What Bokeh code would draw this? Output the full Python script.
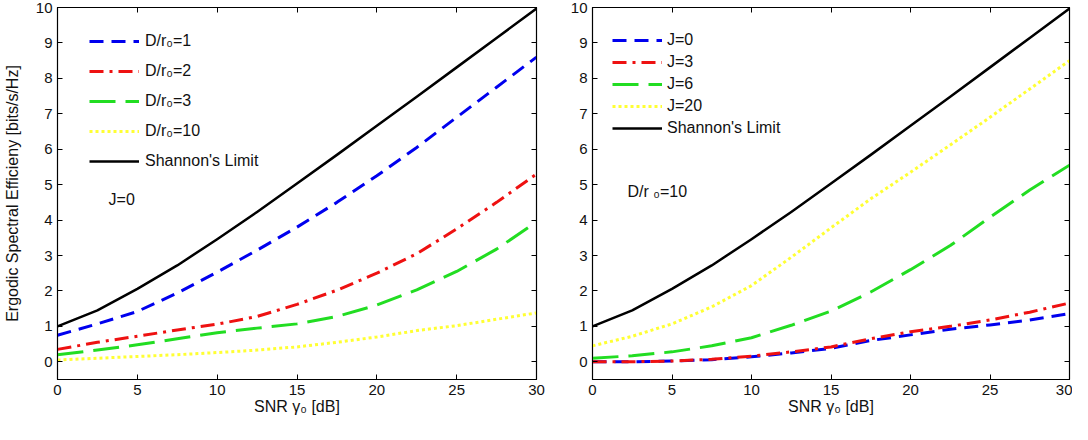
from bokeh.plotting import figure
from bokeh.models import Range1d, FixedTicker, LinearAxis, Label, Legend, LegendItem
from bokeh.layouts import row
from bokeh.embed import file_html
from bokeh.resources import INLINE

# ---------------- data ----------------
snr_db = [0, 2.5, 5, 7.5, 10, 12.5, 15, 17.5, 20, 22.5, 25, 27.5, 30]

shannon = [1.00, 1.45, 2.06, 2.72, 3.46, 4.23, 5.03, 5.84, 6.66, 7.48, 8.31, 9.14, 9.97]

# left panel (J=0)
d_r1 = [0.75, 1.07, 1.42, 1.94, 2.53, 3.15, 3.80, 4.50, 5.25, 6.05, 6.90, 7.75, 8.60]
d_r2 = [0.35, 0.55, 0.72, 0.90, 1.06, 1.28, 1.62, 2.02, 2.50, 3.05, 3.75, 4.50, 5.30]
d_r3 = [0.20, 0.33, 0.48, 0.65, 0.82, 0.95, 1.07, 1.28, 1.60, 2.03, 2.55, 3.18, 3.95]
d_r10 = [0.05, 0.10, 0.15, 0.20, 0.26, 0.33, 0.42, 0.55, 0.70, 0.88, 1.02, 1.20, 1.38]

# right panel (D/r0=10)
j0 = [0.00, 0.00, 0.02, 0.06, 0.14, 0.25, 0.38, 0.60, 0.76, 0.92, 1.04, 1.18, 1.36]
j3 = [0.00, 0.00, 0.02, 0.07, 0.16, 0.28, 0.42, 0.65, 0.85, 1.00, 1.18, 1.40, 1.66]
j6 = [0.10, 0.17, 0.28, 0.45, 0.68, 1.03, 1.43, 1.97, 2.60, 3.28, 4.08, 4.85, 5.55]
j20 = [0.45, 0.72, 1.07, 1.55, 2.15, 2.95, 3.78, 4.60, 5.35, 6.12, 6.90, 7.70, 8.50]

left_labels = ["D/r\u2080=1", "D/r\u2080=2", "D/r\u2080=3", "D/r\u2080=10", "Shannon's Limit"]
right_labels = ["J=0", "J=3", "J=6", "J=20", "Shannon's Limit"]

x_ticks = [0, 5, 10, 15, 20, 25, 30]
y_ticks = [0, 1, 2, 3, 4, 5, 6, 7, 8, 9, 10]

FONT = "Liberation Sans"
styles = [
    dict(color="#0000ee", dash="14 8", width=3),
    dict(color="#ee1111", dash="14 6 3 6", width=3),
    dict(color="#22dd22", dash="26 10", width=3),
    dict(color="#ffff33", dash="3 3", width=3),
    dict(color="#000000", dash="solid", width=2.5),
]

FIG_H = 418


def make_fig(width, border_left, border_right, ylabel):
    p = figure(width=width, height=FIG_H, output_backend="svg", toolbar_location=None,
               x_range=Range1d(0, 30), y_range=Range1d(-0.5, 10),
               min_border_left=border_left, min_border_right=border_right,
               min_border_top=7, min_border_bottom=39)
    p.xgrid.visible = False
    p.ygrid.visible = False
    p.outline_line_color = "black"
    p.outline_line_width = 1.2
    p.background_fill_color = "white"
    p.border_fill_color = "white"
    for ax in [p.xaxis[0], p.yaxis[0]]:
        ax.major_tick_in = 5
        ax.major_tick_out = 0
        ax.minor_tick_line_color = None
        ax.axis_line_color = "black"
        ax.major_tick_line_color = "black"
        ax.major_label_text_font = FONT
        ax.major_label_text_font_size = "15px"
        ax.major_label_text_color = "#111111"
        ax.axis_label_text_font = FONT
        ax.axis_label_text_font_size = "16px"
        ax.axis_label_text_font_style = "normal"
        ax.axis_label_text_color = "#111111"
    p.xaxis[0].ticker = FixedTicker(ticks=x_ticks)
    p.yaxis[0].ticker = FixedTicker(ticks=y_ticks)
    p.xaxis[0].major_label_standoff = 5
    p.yaxis[0].major_label_standoff = 5
    p.xaxis[0].axis_label = "SNR \u03b3\u2080 [dB]"
    p.xaxis[0].axis_label_standoff = 0
    if ylabel:
        p.yaxis[0].axis_label = ylabel
        p.yaxis[0].axis_label_standoff = 12
    # inner ticks on top and right edges (box on)
    top = LinearAxis(ticker=FixedTicker(ticks=x_ticks),
                     major_label_overrides={t: "" for t in x_ticks})
    right = LinearAxis(ticker=FixedTicker(ticks=y_ticks),
                       major_label_overrides={t: "" for t in y_ticks})
    for ax in (top, right):
        ax.major_tick_in = 5
        ax.major_tick_out = 0
        ax.minor_tick_line_color = None
        ax.axis_line_color = "black"
        ax.major_label_standoff = 0
        ax.major_label_text_font_size = "1px"
    p.add_layout(top, "above")
    p.add_layout(right, "right")
    return p


def add_series(p, series, labels, loc, spacing, item_h, standoff):
    items = []
    for ys, lab, st in zip(series, labels, styles):
        r = p.line(snr_db, ys, line_color=st["color"], line_width=st["width"],
                   line_dash=st["dash"], line_cap="butt", line_join="round")
        items.append(LegendItem(label=lab, renderers=[r]))
    leg = Legend(items=items, location=loc, glyph_width=50, glyph_height=item_h,
                 label_height=item_h, spacing=spacing, padding=5, margin=0,
                 label_standoff=standoff, label_text_font=FONT,
                 label_text_font_size="16px", label_text_color="#111111",
                 border_line_color=None, background_fill_alpha=0)
    p.add_layout(leg, "center")


p1 = make_fig(567, 52, 31, "Ergodic Spectral Efficieny [bits/s/Hz]")
add_series(p1, [d_r1, d_r2, d_r3, d_r10, shannon], left_labels, (32, 208), 10, 20, 6)
p1.add_layout(Label(x=3.2, y=4.57, text="J=0", text_font=FONT, text_font_size="16px",
                    text_baseline="middle", text_align="left", text_color="#111111"))

p2 = make_fig(505, 22, 3, None)
add_series(p2, [j0, j3, j6, j20, shannon], right_labels, (20, 240), 0, 22, 5)
p2.add_layout(Label(x=2.2, y=4.8, text="D/r \u2080=10", text_font=FONT, text_font_size="16px",
                    text_baseline="middle", text_align="left", text_color="#111111"))

layout = row(p1, p2)
open("out.html", "w").write(file_html(layout, INLINE))
